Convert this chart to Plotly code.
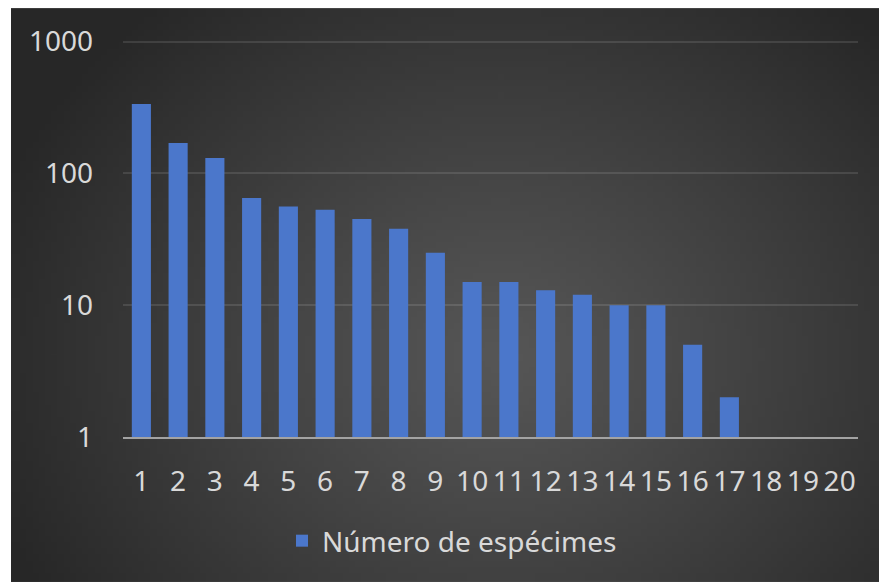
import base64, struct, zlib
import plotly.graph_objects as go

# ---- data ----
categories = [str(i) for i in range(1, 21)]
specimens = [336, 170, 131, 65, 56, 53, 45, 38, 25, 15, 15, 13, 12, 10, 10, 5, 2, 1, 1, 1]
series_name = "Número de espécimes"
y_tickvals = [1, 10, 100, 1000]
y_ticktext = ["1", "10", "100", "1000"]

# ---- background radial gradient (style only) ----
def make_png(w, h):
    c_in, c_out = 0x56, 0x27
    cx, cy = 0.56 * w, 0.6 * h
    rows = []
    for j in range(h):
        row = bytearray([0])
        for i in range(w):
            dx = (i - cx) / (0.62 * w)
            dy = (j - cy) / (0.8 * h)
            t = min((dx * dx + dy * dy) ** 0.5, 1.0) ** 1.1
            v = int(round(c_in + (c_out - c_in) * t))
            row += bytes([v, v, v])
        rows.append(bytes(row))
    raw = b"".join(rows)
    def chunk(tag, data):
        return struct.pack(">I", len(data)) + tag + data + struct.pack(">I", zlib.crc32(tag + data) & 0xffffffff)
    png = b"\x89PNG\r\n\x1a\n"
    png += chunk(b"IHDR", struct.pack(">IIBBBBB", w, h, 8, 2, 0, 0, 0))
    png += chunk(b"IDAT", zlib.compress(raw, 9))
    png += chunk(b"IEND", b"")
    return "data:image/png;base64," + base64.b64encode(png).decode()

W, H = 879, 582
Y_TOP = 3.012
L, R, T, B = 123, 21, 39.9, 145
pw, ph = W - L - R, H - T - B

def px_to_paper_x(px):
    return (px - L) / pw

def px_to_paper_y(py):
    return (H - B - py) / ph

bg = make_png(140, 92)

fig = go.Figure()
fig.add_trace(go.Bar(
    x=categories, y=specimens, name=series_name,
    marker=dict(color="#4b77cb", line=dict(width=0)),
    showlegend=True,
))

fig.update_layout(
    width=W, height=H,
    margin=dict(l=L, r=R, t=T, b=B, pad=0),
    paper_bgcolor="white",
    plot_bgcolor="rgba(0,0,0,0)",
    bargap=0.48,
    font=dict(family="Noto Sans", color="#d9d9d9", size=28),
    images=[dict(
        source=bg, xref="paper", yref="paper",
        x=px_to_paper_x(11), y=px_to_paper_y(8),
        sizex=px_to_paper_x(879) - px_to_paper_x(11),
        sizey=px_to_paper_y(8) - px_to_paper_y(582),
        xanchor="left", yanchor="top", sizing="stretch", layer="below",
    )],
    xaxis=dict(
        type="category", showgrid=False, zeroline=False,
        showline=True, linecolor="#a3a3a3", linewidth=2,
        ticks="", ticklabelstandoff=18,
        tickfont=dict(size=28, color="#d9d9d9"),
    ),
    yaxis=dict(
        type="log", range=[0, Y_TOP], tickvals=y_tickvals, ticktext=y_ticktext,
        showgrid=True, gridcolor="rgba(255,255,255,0.11)", gridwidth=1.5,
        zeroline=False, showline=False, ticks="", ticklabelstandoff=29,
        tickfont=dict(size=28, color="#d9d9d9"),
    ),
    legend=dict(
        orientation="h", x=px_to_paper_x(452), y=px_to_paper_y(541),
        xanchor="center", yanchor="middle",
        bgcolor="rgba(0,0,0,0)", font=dict(size=28, color="#d9d9d9"),
    ),
)

fig.write_html("out.html")
